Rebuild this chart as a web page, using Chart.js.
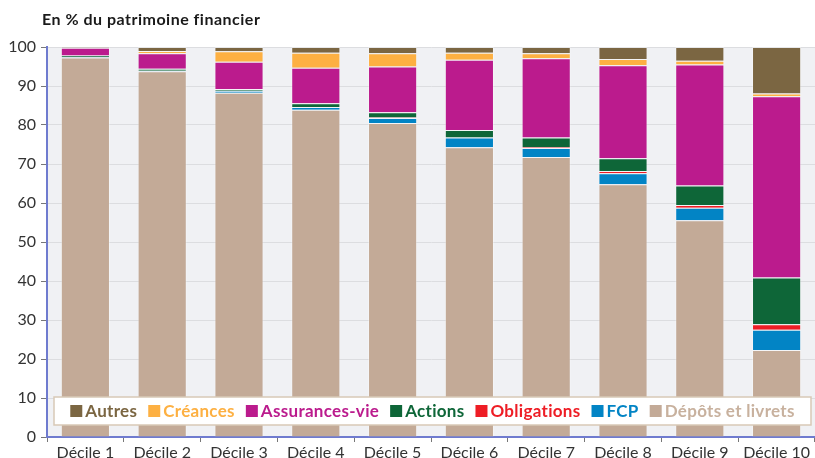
<!DOCTYPE html>
<html>
<head>
<meta charset="utf-8">
<script src="https://cdn.jsdelivr.net/npm/chart.js@4"></script>
<style>
  body { margin: 0; background: #fff; }
  #wrap { position: relative; width: 815px; height: 458px; }
  #title { position: absolute; left: 42px; top: 9px; font: bold 16px Lato, sans-serif; letter-spacing: 0.5px; color: #1a1a1a; }
</style>
</head>
<body>
<div id="wrap">
  <div id="title">En % du patrimoine financier</div>
  <canvas id="graph" width="815" height="458"></canvas>
</div>
<script>
// categories
const deciles = ['Décile 1', 'Décile 2', 'Décile 3', 'Décile 4', 'Décile 5',
                 'Décile 6', 'Décile 7', 'Décile 8', 'Décile 9', 'Décile 10'];

// shares of financial wealth, in %, bottom of the stack first
const depots      = [97.3, 93.8, 88.3, 83.9, 80.5, 74.3, 71.8, 64.8, 55.6, 22.3];
const fcp         = [0.1, 0.1, 0.5, 0.7, 1.3, 2.5, 2.3, 2.8, 3.2, 5.2];
const obligations = [0.0, 0.0, 0.0, 0.0, 0.1, 0.0, 0.2, 0.6, 0.7, 1.4];
const actions     = [0.4, 0.5, 0.4, 1.0, 1.4, 1.9, 2.5, 3.3, 5.0, 12.0];
const assurances  = [2.0, 4.0, 7.0, 9.1, 11.7, 18.0, 20.3, 23.8, 31.0, 46.5];
const creances    = [0.0, 0.6, 2.7, 3.8, 3.4, 1.8, 1.3, 1.6, 1.0, 0.7];
const autres      = [0.2, 1.0, 1.1, 1.5, 1.6, 1.5, 1.6, 3.1, 3.5, 11.9];

const yTicks = [0, 10, 20, 30, 40, 50, 60, 70, 80, 90, 100];

const series = [
    { label: 'Dépôts et livrets', data: depots, color: '#c3aa97', text: '#c8b19e' },
    { label: 'FCP', data: fcp, color: '#0284c5', text: '#0284c5' },
    { label: 'Obligations', data: obligations, color: '#ee1d25', text: '#ee1d25' },
    { label: 'Actions', data: actions, color: '#0e6638', text: '#0e6638' },
    { label: 'Assurances-vie', data: assurances, color: '#bb1b8d', text: '#bb1b8d' },
    { label: 'Créances', data: creances, color: '#fdb042', text: '#fdb042' },
    { label: 'Autres', data: autres, color: '#7b6642', text: '#7b6642' }
];

// grey plot background
const plotBg = {
    id: 'plotBg',
    beforeDraw(chart) {
        const { ctx, chartArea: a } = chart;
        ctx.save();
        ctx.fillStyle = '#f0f1f4';
        ctx.fillRect(a.left, a.top, a.right - a.left, a.bottom - a.top);
        ctx.restore();
    }
};

// legend boxed inside the plot, near the bottom
const insideLegend = {
    id: 'insideLegend',
    afterDatasetsDraw(chart) {
        const { ctx, chartArea: a } = chart;
        const items = series.slice().reverse();
        const box = { left: a.left + 7, right: a.right - 4, top: a.bottom - 40, h: 28 };
        ctx.save();
        ctx.fillStyle = '#ffffff';
        ctx.strokeStyle = '#d8c9b6';
        ctx.lineWidth = 1.5;
        ctx.fillRect(box.left, box.top, box.right - box.left, box.h);
        ctx.strokeRect(box.left, box.top, box.right - box.left, box.h);

        ctx.font = 'bold 17px Lato, sans-serif';
        ctx.letterSpacing = '0.3px';
        ctx.textBaseline = 'middle';
        const sq = 12, gap = 3, sep = 11;
        let total = 0;
        items.forEach((d, i) => {
            total += sq + gap + ctx.measureText(d.label).width + (i < items.length - 1 ? sep : 0);
        });
        let x = (box.left + box.right) / 2 - total / 2;
        const cy = box.top + box.h / 2;
        items.forEach(d => {
            ctx.fillStyle = d.color;
            ctx.fillRect(x, cy - sq / 2, sq, sq);
            x += sq + gap;
            ctx.fillStyle = d.text;
            ctx.fillText(d.label, x, cy + 1);
            x += ctx.measureText(d.label).width + sep;
        });
        ctx.restore();
    }
};

const ctx = document.getElementById('graph').getContext('2d');
new Chart(ctx, {
    type: 'bar',
    data: {
        labels: deciles,
        datasets: series.map(s => ({
            label: s.label,
            data: s.data,
            backgroundColor: s.color,
            borderColor: 'rgba(255,255,255,0.3)',
            borderWidth: 1,
            barPercentage: 0.64,
            categoryPercentage: 1
        }))
    },
    options: {
        responsive: false,
        animation: false,
        layout: { padding: { top: 47, right: 0, left: 0, bottom: 0 } },
        plugins: {
            legend: { display: false },
            tooltip: { enabled: false }
        },
        scales: {
            x: {
                stacked: true,
                grid: { display: true, drawOnChartArea: false, tickLength: 5, color: '#777' },
                border: { color: '#6f7bcf', width: 2 },
                ticks: { color: '#333', font: { family: 'Lato', size: 16 }, padding: 1 },
                afterFit(scale) { scale.height = 21; }
            },
            y: {
                stacked: true,
                min: 0,
                max: 100,
                afterBuildTicks(scale) { scale.ticks = yTicks.map(v => ({ value: v })); },
                grid: { color: '#dcdde0', tickColor: '#777', tickLength: 6 },
                border: { color: '#6f7bcf', width: 2 },
                ticks: { color: '#333', font: { family: 'Lato', size: 16 }, padding: 5 },
                afterFit(scale) { scale.width = 47; }
            }
        }
    },
    plugins: [plotBg, insideLegend]
});
</script>
</body>
</html>
